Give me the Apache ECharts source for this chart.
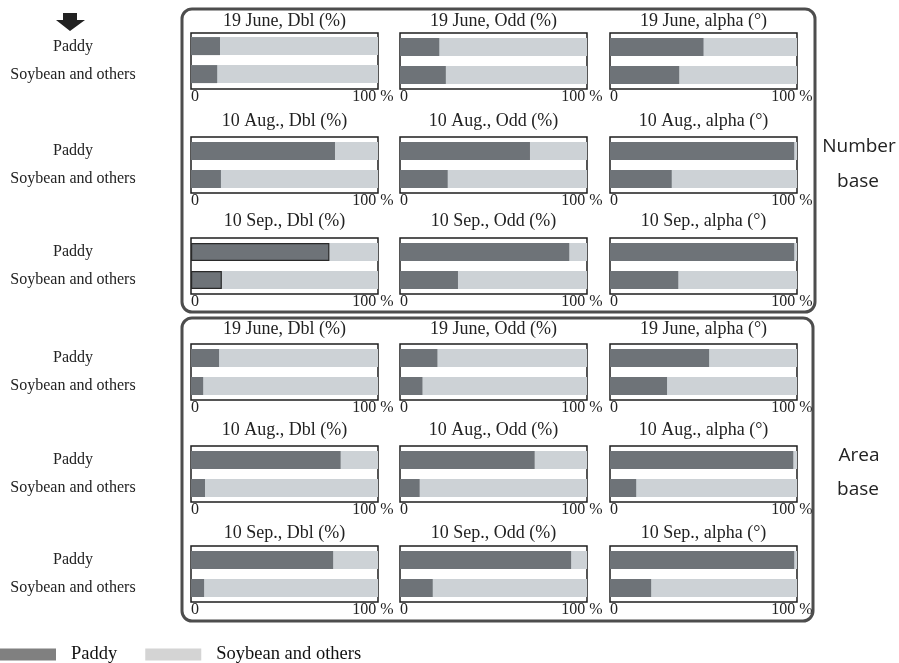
<!DOCTYPE html>
<html>
<head>
<meta charset="utf-8">
<script src="https://cdn.jsdelivr.net/npm/echarts@6/dist/echarts.min.js"></script>
<style>
  html, body { margin: 0; padding: 0; background: #fff; }
  #chart { width: 899px; height: 663px; }
</style>
</head>
<body>
<div id="chart"></div>
<script>
// Share of each class (%), per panel: [Paddy, Soybean and others]
const classes = ['Paddy', 'Soybean and others'];
const dates = ['19 June', '10 Aug.', '10 Sep.'];
const metrics = ['Dbl (%)', 'Odd (%)', 'alpha (°)'];
const tickLabels = ['0', '100 %'];

// Number base (columns: Dbl, Odd, alpha)
const numberJune = [[15.5, 14], [21, 24.5], [50, 37]];
const numberAug  = [[77, 16], [69.5, 25.5], [98.5, 33]];
const numberSep  = [[74, 16.5], [90.5, 31], [98.5, 36.5]];
// Area base (columns: Dbl, Odd, alpha)
const areaJune = [[15, 6.5], [20, 12], [53, 30.5]];
const areaAug  = [[80, 7.5], [72, 10.5], [98, 14]];
const areaSep  = [[76, 7], [91.5, 17.5], [98.5, 22]];

const rows = [numberJune, numberAug, numberSep, areaJune, areaAug, areaSep];
const rowDates = [dates[0], dates[1], dates[2], dates[0], dates[1], dates[2]];

// layout
const frameTop = [33, 137, 238, 344, 446, 546];
const titleMid = [22, 122, 222, 330, 431, 534];
const frameLeft = [191, 400, 610];
const frameW = 187, frameH = 56;

const DARK = '#6e7378', LIGHT = '#cdd2d6';
const SERIF = '"Liberation Serif", "Times New Roman", serif';
const SANS = '"Open Sans", "Noto Sans", sans-serif';

const grids = [], xAxes = [], yAxes = [], series = [], titles = [];
let g = 0;
rows.forEach((row, r) => {
  row.forEach((vals, c) => {
    grids.push({
      left: frameLeft[c], top: frameTop[r], width: frameW, height: frameH,
      show: true, borderColor: '#1e1e1e', borderWidth: 1.5, backgroundColor: 'transparent'
    });
    xAxes.push({
      gridIndex: g, type: 'value', min: 0, max: 100, interval: 100,
      axisLine: { show: false }, axisTick: { show: false }, splitLine: { show: false },
      axisLabel: {
        margin: 0, color: '#222', fontFamily: SERIF, fontSize: 16,
        formatter: v => v === 0 ? '{l|' + tickLabels[0] + '}' : '{r|' + tickLabels[1] + '}',
        rich: {
          l: { padding: [0, 0, 0, 8], fontFamily: SERIF, fontSize: 16, color: '#222' },
          r: { padding: [0, 10, 0, 0], fontFamily: SERIF, fontSize: 16, color: '#222' }
        }
      }
    });
    yAxes.push({
      gridIndex: g, type: 'category', data: classes, inverse: true,
      axisLine: { show: false }, axisTick: { show: false }, splitLine: { show: false },
      axisLabel: {
        show: c === 0, margin: 118, align: 'center',
        color: '#222', fontFamily: SERIF, fontSize: 16
      }
    });
    const outlined = (r === 2 && c === 0);
    series.push({
      type: 'bar', name: 'Paddy', xAxisIndex: g, yAxisIndex: g,
      data: vals, barWidth: 18, silent: true,
      showBackground: true, backgroundStyle: { color: LIGHT },
      itemStyle: outlined ? { color: DARK, borderColor: '#2a2a2a', borderWidth: 1.2 } : { color: DARK }
    });
    titles.push({
      text: rowDates[r] + ', ' + metrics[c],
      left: frameLeft[c] + frameW / 2, top: titleMid[r] - 10, padding: 0,
      textAlign: 'center',
      textStyle: { fontFamily: SERIF, fontSize: 18, fontWeight: 'normal', color: '#222' }
    });
    g++;
  });
});

// legend-only entry for the light remainder
series.push({ type: 'bar', name: 'Soybean and others', xAxisIndex: 0, yAxisIndex: 0, data: [], itemStyle: { color: LIGHT } });

const option = {
  animation: false,
  backgroundColor: '#fff',
  title: titles,
  grid: grids,
  xAxis: xAxes,
  yAxis: yAxes,
  series: series,
  legend: {
    left: 0, top: 645, padding: 0, itemWidth: 56, itemHeight: 12, itemGap: 28,
    icon: 'rect', selectedMode: false,
    textStyle: { fontFamily: SERIF, fontSize: 18.5, color: '#111', padding: [0, 0, 0, 10] },
    data: [
      { name: 'Paddy', itemStyle: { color: '#808080' } },
      { name: 'Soybean and others', itemStyle: { color: '#d4d4d4' } }
    ]
  },
  graphic: [
    { type: 'rect', shape: { x: 182, y: 9, width: 633, height: 303, r: 10 },
      style: { fill: 'none', stroke: '#4d4d4d', lineWidth: 3 }, z: 100 },
    { type: 'rect', shape: { x: 182, y: 318, width: 631, height: 303, r: 10 },
      style: { fill: 'none', stroke: '#4d4d4d', lineWidth: 3 }, z: 100 },
    { type: 'polygon', shape: { points: [[63, 13], [77, 13], [77, 20], [85, 20], [70, 31], [56, 20], [63, 20]] },
      style: { fill: '#222' } },
    { type: 'text', x: 859, y: 147, style: { text: 'Number', font: '19px ' + SANS, fill: '#222', textAlign: 'center', textVerticalAlign: 'middle' } },
    { type: 'text', x: 858, y: 182, style: { text: 'base', font: '19px ' + SANS, fill: '#222', textAlign: 'center', textVerticalAlign: 'middle' } },
    { type: 'text', x: 859, y: 456, style: { text: 'Area', font: '19px ' + SANS, fill: '#222', textAlign: 'center', textVerticalAlign: 'middle' } },
    { type: 'text', x: 858, y: 490, style: { text: 'base', font: '19px ' + SANS, fill: '#222', textAlign: 'center', textVerticalAlign: 'middle' } }
  ]
};

const chart = echarts.init(document.getElementById('chart'), null, { renderer: 'canvas' });
chart.setOption(option);
</script>
</body>
</html>
